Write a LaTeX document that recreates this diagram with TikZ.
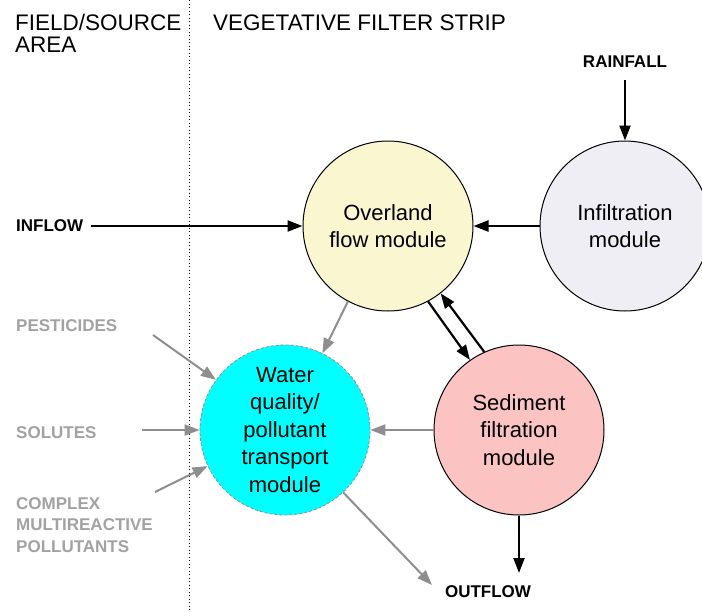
\documentclass[tikz,border=0pt]{standalone}
\usepackage{fontspec}
\setmainfont{Liberation Sans}
\usetikzlibrary{arrows.meta}
\definecolor{ovfill}{HTML}{FAF6D0}
\definecolor{inffill}{HTML}{EFEEF5}
\definecolor{sedfill}{HTML}{FCC3C3}
\definecolor{wqfill}{HTML}{00FFFF}
\definecolor{arrgray}{HTML}{8E8E8E}
\definecolor{labgray}{HTML}{A2A2A2}
\begin{document}
\begin{tikzpicture}[x=1pt,y=-1pt,
  module/.style={circle,draw=black,line width=1pt,minimum size=170pt,inner sep=0pt,align=center,
    font=\fontsize{22}{27.5}\selectfont},
  header/.style={font=\fontsize{22.5}{22}\selectfont,align=left,inner sep=0pt,anchor=base west},
  lab/.style={font=\fontsize{17}{21.5}\selectfont\bfseries,align=left,inner sep=0pt},
  graylab/.style={lab,text=labgray},
  blackarrow/.style={line width=2.2pt,draw=black,-{Triangle[length=15pt,width=11pt]}},
  grayarrow/.style={line width=2pt,draw=arrgray,-{Triangle[length=15pt,width=11pt]}},
  divider/.style={line width=1pt,dash pattern=on 1pt off 2.5pt}]
\useasboundingbox (0,0) rectangle (702,611);
\fill[white] (0,0) rectangle (702,611);

% divider
\coordinate (divtop) at (189,0);
\coordinate (divbot) at (189,611);
\draw[divider] (divtop) -- (divbot);

% headers
\node[header] (hfield) at (15,52) {FIELD/SOURCE\\AREA};
\node[header] (hveg) at (213,30) {VEGETATIVE FILTER STRIP};

% modules
\node[module,fill=ovfill] (ov) at (388,226) {Overland\\flow module};
\node[module,fill=inffill] (inf) at (625,226) {Infiltration\\module};
\node[module,fill=wqfill,draw=arrgray,dash pattern=on 3pt off 2pt,line width=0.8pt] (wq) at (285,430) {Water\\quality/\\pollutant\\transport\\module};
\node[module,fill=sedfill] (sed) at (519,430) {Sediment\\filtration\\module};

% labels
\node[lab,anchor=west,inner xsep=0pt] (inflow) at (16,226) {INFLOW};
\node[lab] (rain) at (625,62) {RAINFALL};
\node[lab] (outflow) at (488,592) {OUTFLOW};
\node[graylab,anchor=west] (pest) at (16,326) {PESTICIDES};
\node[graylab,anchor=west] (sol) at (16,433) {SOLUTES};
\node[graylab,anchor=west] (cmp) at (16,525) {COMPLEX\\MULTIREACTIVE\\POLLUTANTS};

% free ends
\coordinate (pestS) at (153,335);
\coordinate (solS) at (142,430);
\coordinate (cmpS) at (155,492);
\coordinate (outA) at (432,585);
\coordinate (outB) at (519,573);

% black connectors
\draw[blackarrow,shorten <=8pt] (inflow.east) -- (ov.west);
\draw[blackarrow] (inf.west) -- (ov.east);
\draw[blackarrow,shorten <=12pt] (rain.south) -- (inf.north);
\draw[blackarrow] (ov.-62.2) -- (sed.125.5);
\draw[blackarrow] (sed.114.8) -- (ov.-52);
\draw[blackarrow] (sed.south) -- (outB);

% gray connectors
\draw[grayarrow] (ov.242) -- (wq.64);
\draw[grayarrow] (sed.west) -- (wq.east);
\draw[grayarrow] (pestS) -- (wq.144);
\draw[grayarrow] (solS) -- (wq.west);
\draw[grayarrow] (cmpS) -- (wq.205.7);
\draw[grayarrow] (wq.-47.4) -- (outA);
\end{tikzpicture}
\end{document}
